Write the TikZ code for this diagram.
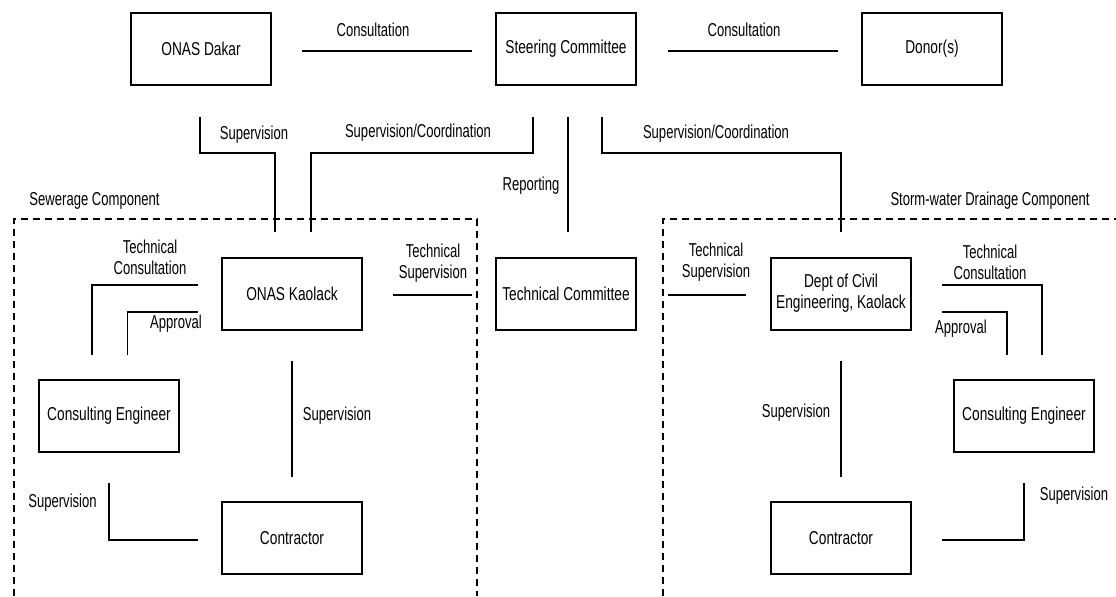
\documentclass[tikz,border=0pt]{standalone}
\usepackage{fontspec}
\setmainfont{Liberation Sans}
\usepackage{graphicx}
\newcommand\nx[1]{\scalebox{0.70}[1]{#1}}
\newcommand\bx[1]{\scalebox{0.735}[1]{#1}}
\newcommand\fs{\fontsize{14}{15.5}\selectfont}
\begin{document}
\begin{tikzpicture}[x=0.75pt,y=-0.75pt,
  box/.style={draw, line width=1.5pt, minimum width=105pt, minimum height=54pt, inner sep=0pt, align=center, font=\fs},
  lbl/.style={inner sep=0pt, align=center, font=\fs},
  conn/.style={line width=1.1pt},
  zone/.style={line width=1.1pt, dash pattern=on 5.5pt off 3.5pt}]
\useasboundingbox (0,0) rectangle (1116,596);

% boxes
\node[box] (dakar) at (201,49) {\bx{ONAS Dakar}};
\node[box] (steer) at (566,49) {\bx{Steering Committee}};
\node[box] (donor) at (932,49) {\bx{Donor(s)}};
\node[box] (kaol) at (292,293.5) {\bx{ONAS Kaolack}};
\node[box] (tech) at (566,293.5) {\bx{Technical Committee}};
\node[box] (dept) at (841,293.5) {\bx{Dept of Civil}\\\bx{Engineering, Kaolack}};
\node[box] (ceL) at (109,416) {\bx{Consulting Engineer}};
\node[box] (conL) at (292,538) {\bx{Contractor}};
\node[box] (ceR) at (1024,416) {\bx{Consulting Engineer}};
\node[box] (conR) at (841,538) {\bx{Contractor}};

% zones
\draw[zone] (14,596) -- (14,219) -- (477,219) -- (477,596);
\draw[zone] (663,596) -- (663,219) -- (1116,219);
\node[lbl] (zoneL) at (94.5,201) {\nx{Sewerage Component}};
\node[lbl] (zoneR) at (990,201) {\nx{Storm-water Drainage Component}};

% coordinates for connector ends
\coordinate (a1) at (302,51);  \coordinate (a2) at (472,51);
\coordinate (b1) at (668,51);  \coordinate (b2) at (838,51);
\coordinate (s1) at (200,117); \coordinate (s2) at (275,232);
\coordinate (c1) at (533,117); \coordinate (c2) at (311,232);
\coordinate (r1) at (568,117); \coordinate (r2) at (568,232);
\coordinate (d1) at (602,117); \coordinate (d2) at (841,232);
\coordinate (tl1) at (197.5,285); \coordinate (tl2) at (92,355);
\coordinate (al1) at (197.5,312); \coordinate (al2) at (127.5,355);
\coordinate (ts1) at (393,295); \coordinate (ts2) at (472,295);
\coordinate (tr1) at (668,295); \coordinate (tr2) at (746,295);
\coordinate (tc1) at (942,285); \coordinate (tc2) at (1042,355);
\coordinate (ar1) at (942,312); \coordinate (ar2) at (1007,355);
\coordinate (vl1) at (292,361); \coordinate (vl2) at (292,477);
\coordinate (vr1) at (841,361); \coordinate (vr2) at (841,477);
\coordinate (bl1) at (109,483); \coordinate (bl2) at (197.5,540);
\coordinate (br1) at (1024,483); \coordinate (br2) at (942,540);

% connectors
\draw[conn] (a1) -- (a2);
\draw[conn] (b1) -- (b2);
\draw[conn] (s1) |- (275,153) -- (s2);
\draw[conn] (c1) |- (311,153) -- (c2);
\draw[conn] (r1) -- (r2);
\draw[conn] (d1) |- (841,153) -- (d2);
\draw[conn] (tl1) -| (tl2);
\draw[conn] (al1) -| (al2);
\draw[conn] (ts1) -- (ts2);
\draw[conn] (tr1) -- (tr2);
\draw[conn] (tc1) -| (tc2);
\draw[conn] (ar1) -| (ar2);
\draw[conn] (vl1) -- (vl2);
\draw[conn] (vr1) -- (vr2);
\draw[conn] (bl1) |- (bl2);
\draw[conn] (br1) |- (br2);

% labels
\node[lbl] (l1) at (373,30) {\nx{Consultation}};
\node[lbl] (l2) at (744,30) {\nx{Consultation}};
\node[lbl] (l3) at (254,135) {\nx{Supervision}};
\node[lbl] (l4) at (418,133) {\nx{Supervision/Coordination}};
\node[lbl] (l5) at (531,186) {\nx{Reporting}};
\node[lbl] (l6) at (716,134) {\nx{Supervision/Coordination}};
\node[lbl] (l7) at (150,257) {\nx{Technical}\\\nx{Consultation}};
\node[lbl] (l8) at (433,263) {\nx{Technical}\\\nx{Supervision}};
\node[lbl] (l9) at (716,262.5) {\nx{Technical}\\\nx{Supervision}};
\node[lbl] (l10) at (990,262.5) {\nx{Technical}\\\nx{Consultation}};
\node[lbl] (l11) at (176,324) {\nx{Approval}};
\node[lbl] (l12) at (961,329) {\nx{Approval}};
\node[lbl] (l13) at (337,416) {\nx{Supervision}};
\node[lbl] (l14) at (796,413) {\nx{Supervision}};
\node[lbl] (l15) at (62.5,503) {\nx{Supervision}};
\node[lbl] (l16) at (1074,496) {\nx{Supervision}};
\end{tikzpicture}
\end{document}
